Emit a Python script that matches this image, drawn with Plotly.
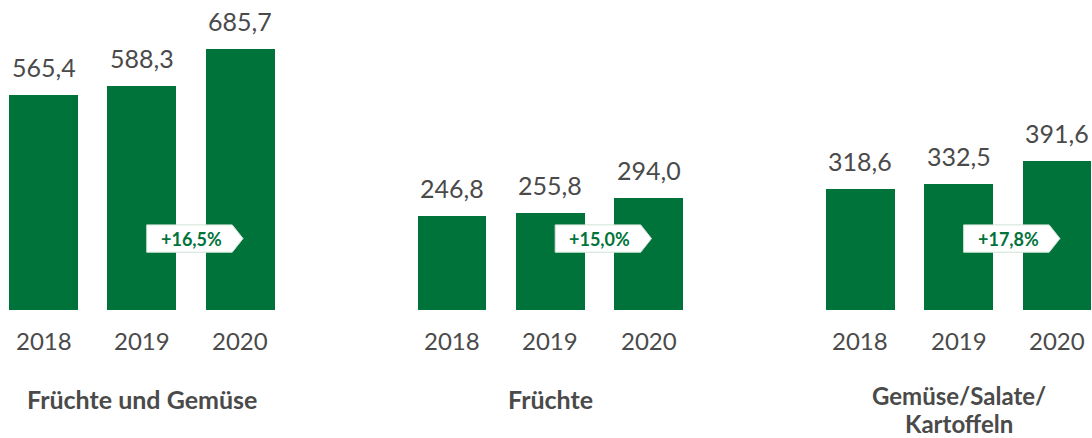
import plotly.graph_objects as go

# Absatz in Mio. (Werte je Warengruppe und Jahr)
title_lines = [["Früchte und Gemüse"], ["Früchte"], ["Gemüse/Salate/", "Kartoffeln"]]
years = ["2018", "2019", "2020"]
values = [
    [565.4, 588.3, 685.7],
    [246.8, 255.8, 294.0],
    [318.6, 332.5, 391.6],
]
growth = ["+16,5%", "+15,0%", "+17,8%"]

GREEN = "#00733a"
GREY = "#4a4a4a"
FONT = "Lato"

GROUP_GAP = 4.155   # distance between group starts, in bar steps
BAR_W = 0.70
PX_PER_UNIT = 0.38  # vertical scale, pixels per value unit
BASE_PX = 310       # pixel row of the zero line

def y_at(px):
    """Data y for a pixel row measured from the top."""
    return (BASE_PX - px) / PX_PER_UNIT

def xpos(g, i):
    return g * GROUP_GAP + i

fig = go.Figure()

xs, ys = [], []
for g, vals in enumerate(values):
    for i, v in enumerate(vals):
        xs.append(xpos(g, i))
        ys.append(v)

fig.add_trace(go.Bar(
    x=xs, y=ys, width=BAR_W,
    marker=dict(color=GREEN, line=dict(width=0)),
    hoverinfo="skip",
))

annotations = []
shapes = []
for g in range(len(values)):
    for i, yr in enumerate(years):
        v = values[g][i]
        # value label above the bar
        annotations.append(dict(
            x=xpos(g, i), y=v, xref="x", yref="y",
            text=f"{v:.1f}".replace(".", ","), showarrow=False,
            font=dict(family=FONT, size=25, color=GREY),
            yanchor="middle", yshift=28,
        ))
        # year label under the bar
        annotations.append(dict(
            x=xpos(g, i), y=y_at(340), xref="x", yref="y", text=yr, showarrow=False,
            font=dict(family=FONT, size=24, color=GREY), yanchor="middle",
        ))
    # group title, one annotation per line
    lines = title_lines[g]
    if len(lines) == 1:
        rows, size = [399], 25
    else:
        rows, size = [395, 423], 24
    for line, row in zip(lines, rows):
        annotations.append(dict(
            x=xpos(g, 1), y=y_at(row), xref="x", yref="y",
            text=f"<b>{line}</b>", showarrow=False,
            font=dict(family=FONT, size=size, color=GREY),
            yanchor="middle", xanchor="center",
        ))
    # growth badge between 2019 and 2020 bars
    c2, c3 = xpos(g, 1), xpos(g, 2)
    x0, x1, xt = c2 + 0.05, c3 - 0.08, c3 + 0.03
    yb, yt = 152.0, 224.0
    ym = (yb + yt) / 2
    shapes.append(dict(
        type="path", xref="x", yref="y",
        path=f"M {x0},{yb} L {x1},{yb} L {xt},{ym} L {x1},{yt} L {x0},{yt} Z",
        fillcolor="white", line=dict(color="#cfe3d6", width=1), layer="above",
    ))
    annotations.append(dict(
        x=(x0 + x1) / 2 + 0.02, y=ym, xref="x", yref="y", text=f"<b>{growth[g]}</b>",
        showarrow=False, font=dict(family=FONT, size=18, color=GREEN),
        yanchor="middle", xanchor="center",
    ))

fig.update_layout(
    width=1092, height=438,
    margin=dict(l=0, r=0, t=0, b=0),
    paper_bgcolor="white", plot_bgcolor="white",
    showlegend=False,
    xaxis=dict(range=[-0.4425, 10.666], visible=False, fixedrange=True),
    yaxis=dict(range=[y_at(438), y_at(0)], visible=False, fixedrange=True),
    annotations=annotations, shapes=shapes,
    bargap=0,
)

fig.write_html("out.html")
